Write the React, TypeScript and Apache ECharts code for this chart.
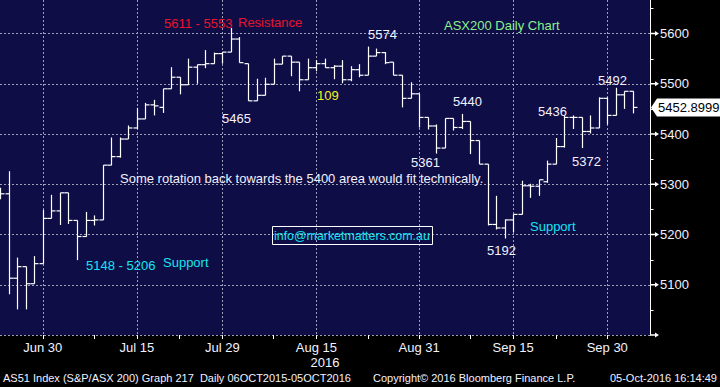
import React, { useEffect, useRef } from 'react';
import * as echarts from 'echarts';

// Trading days (ASX200, Jun 23 – Oct 5 2016) plus two empty slots at the right edge
const categories = [
  'Jun 23', 'Jun 24', 'Jun 27', 'Jun 28', 'Jun 29', 'Jun 30', 'Jul 1', 'Jul 4', 'Jul 5', 'Jul 6',
  'Jul 7', 'Jul 8', 'Jul 11', 'Jul 12', 'Jul 13', 'Jul 14', 'Jul 15', 'Jul 18', 'Jul 19', 'Jul 20',
  'Jul 21', 'Jul 22', 'Jul 25', 'Jul 26', 'Jul 27', 'Jul 28', 'Jul 29', 'Aug 1', 'Aug 2', 'Aug 3',
  'Aug 4', 'Aug 5', 'Aug 8', 'Aug 9', 'Aug 10', 'Aug 11', 'Aug 12', 'Aug 15', 'Aug 16', 'Aug 17',
  'Aug 18', 'Aug 19', 'Aug 22', 'Aug 23', 'Aug 24', 'Aug 25', 'Aug 26', 'Aug 29', 'Aug 30', 'Aug 31',
  'Sep 1', 'Sep 2', 'Sep 5', 'Sep 6', 'Sep 7', 'Sep 8', 'Sep 9', 'Sep 12', 'Sep 13', 'Sep 14',
  'Sep 15', 'Sep 16', 'Sep 19', 'Sep 20', 'Sep 21', 'Sep 22', 'Sep 23', 'Sep 26', 'Sep 27', 'Sep 28',
  'Sep 29', 'Sep 30', 'Oct 3', 'Oct 4', 'Oct 5', 'Oct 6', 'Oct 7',
];

const opens = [
  5280, 5281, 5113, 5136, 5102, 5142, 5232, 5247, 5283, 5228,
  5196, 5228, 5229, 5338, 5355, 5390, 5412, 5430, 5458, 5453,
  5490, 5513, 5498, 5533, 5538, 5540, 5560, 5563, 5589, 5540,
  5466, 5477, 5499, 5539, 5555, 5543, 5508, 5532, 5540, 5532,
  5535, 5508, 5528, 5517, 5555, 5562, 5543, 5517, 5471, 5480,
  5433, 5416, 5372, 5431, 5413, 5425, 5387, 5340, 5220, 5213,
  5229, 5240, 5297, 5296, 5305, 5340, 5375, 5433, 5433, 5405,
  5412, 5471, 5437, 5478, 5485,
];
const highs = [
  5293, 5326, 5154, 5136, 5157, 5249, 5279, 5283, 5283, 5228,
  5245, 5238, 5338, 5393, 5393, 5417, 5452, 5462, 5468, 5490,
  5533, 5513, 5550, 5538, 5567, 5562, 5563, 5611, 5593, 5540,
  5510, 5512, 5550, 5555, 5555, 5543, 5550, 5547, 5550, 5537,
  5547, 5535, 5539, 5574, 5570, 5563, 5543, 5517, 5503, 5480,
  5433, 5419, 5431, 5431, 5440, 5425, 5387, 5340, 5277, 5230,
  5240, 5307, 5301, 5309, 5347, 5392, 5436, 5437, 5433, 5437,
  5473, 5473, 5492, 5485, 5485,
];
const lows = [
  5270, 5081, 5051, 5051, 5102, 5142, 5232, 5219, 5221, 5149,
  5196, 5218, 5229, 5338, 5353, 5390, 5410, 5430, 5437, 5442,
  5490, 5479, 5498, 5500, 5531, 5540, 5540, 5563, 5542, 5466,
  5466, 5477, 5499, 5539, 5515, 5485, 5508, 5525, 5532, 5509,
  5501, 5505, 5513, 5517, 5555, 5539, 5517, 5453, 5471, 5413,
  5409, 5361, 5372, 5407, 5410, 5360, 5340, 5218, 5210, 5192,
  5205, 5240, 5273, 5277, 5303, 5340, 5373, 5410, 5372, 5401,
  5412, 5419, 5437, 5450, 5441,
];
const closes = [
  5281, 5113, 5136, 5102, 5142, 5232, 5247, 5283, 5228, 5196,
  5228, 5229, 5338, 5355, 5390, 5412, 5430, 5458, 5456, 5490,
  5513, 5498, 5533, 5538, 5540, 5560, 5563, 5589, 5542, 5466,
  5477, 5499, 5539, 5555, 5543, 5508, 5532, 5540, 5532, 5535,
  5508, 5528, 5517, 5555, 5562, 5542, 5517, 5471, 5480, 5433,
  5416, 5372, 5431, 5413, 5425, 5387, 5340, 5220, 5213, 5229,
  5240, 5297, 5296, 5309, 5340, 5375, 5433, 5433, 5405, 5412,
  5471, 5437, 5478, 5485, 5452.8999,
];

const majorTickIdx = [5, 16, 26, 37, 49, 60, 71];
const minorTickIdx = [11, 21, 32, 43, 55, 65];
const yMarkerValues = [5000, 5100, 5200, 5300, 5400, 5500, 5600];
const yMinorValues = [5050, 5150, 5250, 5350, 5450, 5550, 5650];

const W = '#f2f2ff';
const RED = '#e8142c';
const GREEN = '#8cf08c';
const CYAN = '#14e4f0';
const YELLOW = '#f4f41c';
const FONT = '"Liberation Sans", Arial, sans-serif';

const annotations = [
  { text: '5611 - 5553', x: 164, y: 23, color: RED, size: 13 },
  { text: 'Resistance', x: 238, y: 22, color: RED, size: 13 },
  { text: 'ASX200 Daily Chart', x: 444, y: 25, color: GREEN, size: 13 },
  { text: '5574', x: 368, y: 34, color: W, size: 13 },
  { text: '5465', x: 222, y: 118.5, color: W, size: 13 },
  { text: '109', x: 317, y: 95, color: YELLOW, size: 13 },
  { text: '5440', x: 453, y: 101, color: W, size: 13 },
  { text: '5361', x: 411, y: 162, color: W, size: 13 },
  { text: '5436', x: 538, y: 111, color: W, size: 13 },
  { text: '5492', x: 598, y: 80, color: W, size: 13 },
  { text: '5372', x: 572, y: 161, color: W, size: 13 },
  { text: '5192', x: 487, y: 250, color: W, size: 13 },
  { text: 'Some rotation back towards the 5400 area would fit technically.', x: 120, y: 178, color: W, size: 13 },
  { text: 'info@marketmatters.com.au', x: 274, y: 235.5, color: CYAN, size: 12.4 },
  { text: 'Support', x: 530, y: 226, color: CYAN, size: 13 },
  { text: '5148 - 5206', x: 86, y: 265, color: CYAN, size: 13 },
  { text: 'Support', x: 163, y: 262, color: CYAN, size: 13 },
];

export default function App() {
  const ref = useRef<HTMLDivElement>(null);

  useEffect(() => {
    document.body.style.margin = '0';
    const chart = echarts.init(ref.current as HTMLDivElement, null, { renderer: 'svg' });
    const data = opens.map((o, i) => [i, o, highs[i], lows[i], closes[i]]);
    const gridLine = { color: '#a0a0b8', type: [2, 2], width: 1 };

    chart.setOption({
      animation: false,
      backgroundColor: '#000000',
      textStyle: { fontFamily: FONT },
      grid: {
        left: 0,
        right: 70,
        top: 0,
        bottom: 52,
        show: true,
        backgroundColor: '#0f0d46',
        borderWidth: 0,
      },
      xAxis: {
        type: 'category',
        data: categories,
        boundaryGap: false,
        axisLine: { show: false },
        axisTick: {
          show: true,
          length: 4,
          interval: (i: number) => majorTickIdx.includes(i) || minorTickIdx.includes(i),
          lineStyle: { color: '#ffffff', width: 1 },
        },
        axisLabel: {
          interval: (i: number) => majorTickIdx.includes(i),
          color: W,
          fontSize: 13,
          fontFamily: FONT,
          margin: 6,
        },
        splitLine: {
          show: true,
          interval: (i: number) => majorTickIdx.includes(i),
          lineStyle: gridLine,
        },
      },
      yAxis: {
        type: 'value',
        position: 'right',
        min: 5000,
        max: 5666.7,
        interval: 100,
        axisLine: { show: true, lineStyle: { color: '#ffffff', width: 1 } },
        axisTick: { show: false },
        axisLabel: {
          margin: 10,
          color: W,
          fontSize: 13,
          fontFamily: FONT,
          showMaxLabel: false,
          formatter: (v: number) => (v > 5000 && Math.abs(v % 100) < 0.01 ? String(v) : ''),
        },
        splitLine: { show: true, showMaxLine: false, lineStyle: gridLine },
      },
      series: [
        {
          type: 'custom',
          clip: true,
          data,
          encode: { x: 0, y: [1, 2, 3, 4] },
          renderItem: (_params: any, api: any) => {
            const i = api.value(0);
            const o = api.coord([i, api.value(1)]);
            const h = api.coord([i, api.value(2)]);
            const l = api.coord([i, api.value(3)]);
            const c = api.coord([i, api.value(4)]);
            const x = Math.round(o[0]) + 0.5;
            const w = 4;
            const st = { stroke: '#ffffff', lineWidth: 1.2 };
            return {
              type: 'group',
              children: [
                { type: 'line', shape: { x1: x, y1: h[1], x2: x, y2: l[1] }, style: st },
                { type: 'line', shape: { x1: x - w, y1: o[1], x2: x, y2: o[1] }, style: st },
                { type: 'line', shape: { x1: x, y1: c[1], x2: x + w, y2: c[1] }, style: st },
              ],
            };
          },
        },
      ],
    });

    const yPix = (v: number) => chart.convertToPixel({ yAxisIndex: 0 }, v) as number;
    const axisX = chart.convertToPixel({ xAxisIndex: 0 }, categories.length - 1) as number;
    const graphics: any[] = [];

    yMarkerValues.forEach((v) => {
      const y = yPix(v);
      graphics.push({
        type: 'polygon',
        shape: {
          points: [
            [axisX, y - 0.7], [axisX + 5, y - 0.7], [axisX + 5, y - 2.5], [axisX + 9, y],
            [axisX + 5, y + 2.5], [axisX + 5, y + 0.7], [axisX, y + 0.7],
          ],
        },
        style: { fill: '#ffffff' },
        z: 100,
      });
    });
    yMinorValues.forEach((v) => {
      const y = Math.round(yPix(v)) + 0.5;
      graphics.push({
        type: 'line',
        shape: { x1: axisX, y1: y, x2: axisX + 3.5, y2: y },
        style: { stroke: '#ffffff', lineWidth: 1 },
        z: 100,
      });
    });

    const last = closes[closes.length - 1];
    const py = yPix(last);
    graphics.push({
      type: 'polygon',
      shape: { points: [[axisX + 1, py], [axisX + 7, py - 9], [720, py - 9], [720, py + 9], [axisX + 7, py + 9]] },
      style: { fill: '#ffffff' },
      z: 100,
    });
    graphics.push({
      type: 'text',
      x: axisX + 8,
      y: py,
      style: { text: last.toFixed(4), fill: '#000000', font: `13px ${FONT}`, verticalAlign: 'middle', align: 'left' },
      z: 101,
    });

    annotations.forEach((a) => {
      graphics.push({
        type: 'text',
        x: a.x,
        y: a.y,
        style: { text: a.text, fill: a.color, font: `${a.size}px ${FONT}`, verticalAlign: 'middle', align: 'left' },
        z: 50,
      });
    });
    graphics.push({
      type: 'rect',
      shape: { x: 272.5, y: 226.5, width: 160, height: 18 },
      style: { fill: 'none', stroke: '#ffffff', lineWidth: 1 },
      z: 50,
    });

    graphics.push({
      type: 'text', x: 325, y: 362,
      style: { text: '2016', fill: W, font: `13px ${FONT}`, verticalAlign: 'middle', align: 'center' },
    });
    graphics.push({
      type: 'text', x: 3, y: 378,
      style: { text: 'AS51 Index (S&P/ASX 200) Graph 217  Daily 06OCT2015-05OCT2016', fill: W, font: `11px ${FONT}`, verticalAlign: 'middle', align: 'left' },
    });
    graphics.push({
      type: 'text', x: 373, y: 378,
      style: { text: 'Copyright\u00A9 2016 Bloomberg Finance L.P.', fill: W, font: `11px ${FONT}`, verticalAlign: 'middle', align: 'left' },
    });
    graphics.push({
      type: 'text', x: 717, y: 378,
      style: { text: '05-Oct-2016 16:14:49', fill: W, font: `11px ${FONT}`, verticalAlign: 'middle', align: 'right' },
    });

    chart.setOption({ graphic: graphics });

    return () => chart.dispose();
  }, []);

  return <div ref={ref} style={{ position: 'absolute', left: 0, top: 0, width: 720, height: 387 }} />;
}
